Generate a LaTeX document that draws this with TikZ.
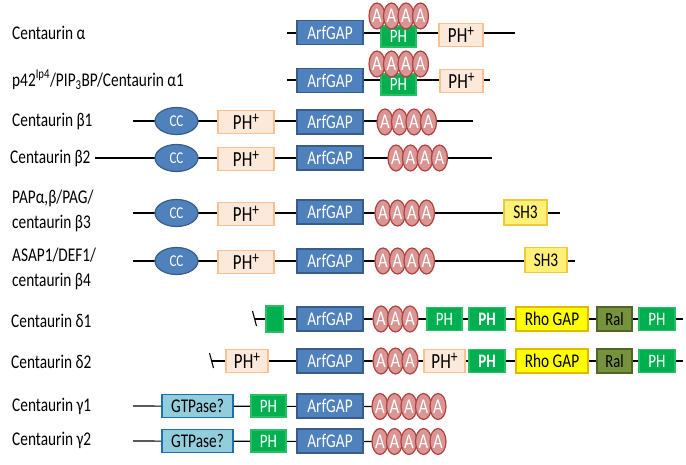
\documentclass[tikz,border=0pt]{standalone}
\usepackage{fontspec}
\setmainfont{Carlito}[FakeStretch=0.79]
\usetikzlibrary{shapes.geometric,backgrounds}
\definecolor{arfblue}{RGB}{79,129,189}
\definecolor{arfborder}{RGB}{56,93,138}
\definecolor{afill}{RGB}{217,150,148}
\definecolor{aborder}{RGB}{176,65,62}
\definecolor{phgreen}{RGB}{0,176,80}
\definecolor{phgborder}{RGB}{40,190,100}
\definecolor{phpfill}{RGB}{253,233,217}
\definecolor{phpborder}{RGB}{250,192,144}
\definecolor{shfill}{RGB}{255,240,120}
\definecolor{shborder}{RGB}{240,200,60}
\definecolor{rhofill}{RGB}{255,255,0}
\definecolor{rhoborder}{RGB}{225,185,0}
\definecolor{ralfill}{RGB}{118,146,60}
\definecolor{ralborder}{RGB}{80,100,40}
\definecolor{gtpfill}{RGB}{146,205,220}
\definecolor{gtpborder}{RGB}{30,110,180}
\tikzset{
  dom/.style={draw, line width=1.2pt, inner sep=0pt, minimum height=24pt, font=\fontsize{19.4}{19.4}\selectfont},
  arf/.style={dom, fill=arfblue, draw=arfborder, text=white, minimum width=66pt},
  phplus/.style={dom, fill=phpfill, draw=phpborder, minimum height=23pt, font=\fontsize{21.5}{21.5}\selectfont},
  phg/.style={dom, fill=phgreen, draw=phgborder, text=white, minimum width=35pt, minimum height=23pt, font=\fontsize{19}{19}\selectfont},
  phb/.style={phg, font=\fontsize{19}{19}\selectfont\bfseries},
  shbox/.style={dom, fill=shfill, draw=shborder, minimum width=43pt, minimum height=25pt},
  rho/.style={dom, fill=rhofill, draw=rhoborder, minimum width=72pt},
  ral/.style={dom, fill=ralfill, draw=ralborder, minimum width=35pt, font=\fontsize{18.5}{18.5}\selectfont},
  gtp/.style={dom, fill=gtpfill, draw=gtpborder, minimum width=71pt, minimum height=23pt},
  aell/.style={ellipse, draw=aborder, fill=afill, line width=1.2pt, minimum width=16pt, minimum height=26pt, inner sep=0pt, text=white, font=\fontsize{21}{21}\selectfont},
  cc/.style={ellipse, draw=arfborder, fill=arfblue, line width=1.2pt, minimum width=43pt, minimum height=27pt, inner sep=0pt, text=white, font=\fontsize{16.5}{16.5}\selectfont},
  lbl/.style={anchor=west, inner sep=0pt, align=left, font=\fontsize{19.4}{25}\selectfont},
  backbone/.style={line width=1.1pt, black},
}
\newcommand{\php}{PH\raisebox{6pt}{\fontsize{17}{17}\selectfont +}}
\begin{document}
\begin{tikzpicture}[x=1pt,y=-1pt]
\useasboundingbox (0,0) rectangle (686,464);

% ---------- labels ----------
\node[lbl] (l1) at (12,33) {Centaurin α};
\node[lbl] (l2) at (12,80) {p42\textsuperscript{Ip4}/PIP\textsubscript{3}BP/Centaurin α1};
\node[lbl] (l3) at (12,121) {Centaurin β1};
\node[lbl] (l4) at (10,158) {Centaurin β2};
\node[lbl] (l5) at (12,211) {PAPα,β/PAG/\\centaurin β3};
\node[lbl] (l6) at (12,269) {ASAP1/DEF1/\\centaurin β4};
\node[lbl] (l7) at (11,321) {Centaurin δ1};
\node[lbl] (l8) at (11,362) {Centaurin δ2};
\node[lbl] (l9) at (12,406) {Centaurin γ1};
\node[lbl] (l10) at (12,440) {Centaurin γ2};

% ---------- row 1: Centaurin alpha ----------
\coordinate (s1) at (287,33); \coordinate (e1) at (515,33);
\node[arf] (r1arf) at (330,32.5) {ArfGAP};
\node[phg, minimum height=21pt] (r1ph) at (398.5,36.5) {\raisebox{-2pt}{PH}};
\foreach \x [count=\i] in {377,391.5,406,420.5}
  \node[aell] (r1a\i) at (\x,16) {A};
\node[phplus, minimum width=44pt] (r1php) at (461,35) {\php};

% ---------- row 2: p42 ----------
\coordinate (s2) at (287,80); \coordinate (e2) at (490,80);
\node[arf] (r2arf) at (330,80.5) {ArfGAP};
\node[phg, minimum height=21pt] (r2ph) at (398.5,84.5) {\raisebox{-2pt}{PH}};
\foreach \x [count=\i] in {377,391.5,406,420.5}
  \node[aell] (r2a\i) at (\x,64) {A};
\node[phplus, minimum width=43pt] (r2php) at (461.5,81) {\php};

% ---------- row 3: beta1 ----------
\coordinate (s3) at (133,121); \coordinate (e3) at (473,121);
\node[cc] (r3cc) at (176.5,121) {CC};
\node[phplus, minimum width=56pt] (r3php) at (246,122) {\php};
\node[arf] (r3arf) at (330,122) {ArfGAP};
\foreach \x [count=\i] in {385,399.5,414,428.5}
  \node[aell] (r3a\i) at (\x,122) {A};

% ---------- row 4: beta2 ----------
\coordinate (s4) at (95,158); \coordinate (e4) at (492,158);
\node[cc] (r4cc) at (176.5,158) {CC};
\node[phplus, minimum width=56pt] (r4php) at (246,159) {\php};
\node[arf] (r4arf) at (330,158) {ArfGAP};
\foreach \x [count=\i] in {396,410.5,425,439.5}
  \node[aell] (r4a\i) at (\x,158) {A};

% ---------- row 5: beta3 ----------
\coordinate (s5) at (133,213); \coordinate (e5) at (560,213);
\node[cc] (r5cc) at (176.5,213) {CC};
\node[phplus, minimum width=56pt] (r5php) at (246,214) {\php};
\node[arf] (r5arf) at (330,212) {ArfGAP};
\foreach \x [count=\i] in {383,397.5,412,426.5}
  \node[aell] (r5a\i) at (\x,213) {A};
\node[shbox] (r5sh) at (525.5,212.5) {SH3};

% ---------- row 6: beta4 ----------
\coordinate (s6) at (133,261); \coordinate (e6) at (575,261);
\node[cc] (r6cc) at (176.5,261) {CC};
\node[phplus, minimum width=56pt] (r6php) at (246,262) {\php};
\node[arf] (r6arf) at (330,261) {ArfGAP};
\foreach \x [count=\i] in {383,397.5,412,426.5}
  \node[aell] (r6a\i) at (\x,261) {A};
\node[shbox, minimum width=42pt] (r6sh) at (546,260) {SH3};

% ---------- row 7: delta1 ----------
\coordinate (s7) at (255,319); \coordinate (e7) at (683,319);
\coordinate (b7a) at (252.5,311); \coordinate (b7b) at (256.5,326);
\node[phg, minimum width=17pt, minimum height=26pt] (r7g) at (274.5,319) {};
\node[arf] (r7arf) at (330,319) {ArfGAP};
\foreach \x [count=\i] in {381,395.5,410}
  \node[aell] (r7a\i) at (\x,319) {A};
\node[phg] (r7ph1) at (444.5,319) {PH};
\node[phb, minimum width=36pt] (r7ph2) at (487,319) {PH};
\node[rho] (r7rho) at (552,319) {Rho GAP};
\node[ral] (r7ral) at (614.5,319) {Ral};
\node[phg, minimum width=36pt] (r7ph3) at (657,319) {PH};

% ---------- row 8: delta2 ----------
\coordinate (s8) at (212,361); \coordinate (e8) at (683,361);
\coordinate (b8a) at (209.5,353); \coordinate (b8b) at (213.5,368);
\node[phplus, minimum width=42pt] (r8php1) at (247,361) {\php};
\node[arf] (r8arf) at (330,361) {ArfGAP};
\foreach \x [count=\i] in {381,395.5,410}
  \node[aell] (r8a\i) at (\x,361) {A};
\node[phplus, minimum width=41pt] (r8php2) at (444.5,361) {\php};
\node[phb, minimum width=36pt] (r8ph2) at (487,361) {PH};
\node[rho] (r8rho) at (552,361) {Rho GAP};
\node[ral] (r8ral) at (614.5,361) {Ral};
\node[phg, minimum width=36pt] (r8ph3) at (657,361) {PH};

% ---------- row 9: gamma1 ----------
\coordinate (s9) at (133,406);
\node[gtp] (r9gtp) at (197.5,406) {GTPase?};
\node[phg, minimum height=22pt] (r9ph) at (268.5,406) {PH};
\node[arf] (r9arf) at (330,406) {ArfGAP};
\foreach \x [count=\i] in {380,394.5,409,423.5,438}
  \node[aell] (r9a\i) at (\x,406.5) {A};

% ---------- row 10: gamma2 ----------
\coordinate (s10) at (133,441);
\node[gtp] (r10gtp) at (197.5,441) {GTPase?};
\node[phg, minimum height=22pt] (r10ph) at (268.5,441) {PH};
\node[arf] (r10arf) at (330,441) {ArfGAP};
\foreach \x [count=\i] in {380,394.5,409,423.5,438}
  \node[aell] (r10a\i) at (\x,441.5) {A};

% ---------- backbones ----------
\begin{scope}[on background layer]
  \foreach \i in {1,...,8}
    \draw[backbone] (s\i) -- (e\i);
  \draw[backbone] (s9) -- (r9a1.center);
  \draw[backbone] (s10) -- (r10a1.center);
  \draw[backbone] (b7a) -- (b7b);
  \draw[backbone] (b8a) -- (b8b);
\end{scope}
\end{tikzpicture}
\end{document}
